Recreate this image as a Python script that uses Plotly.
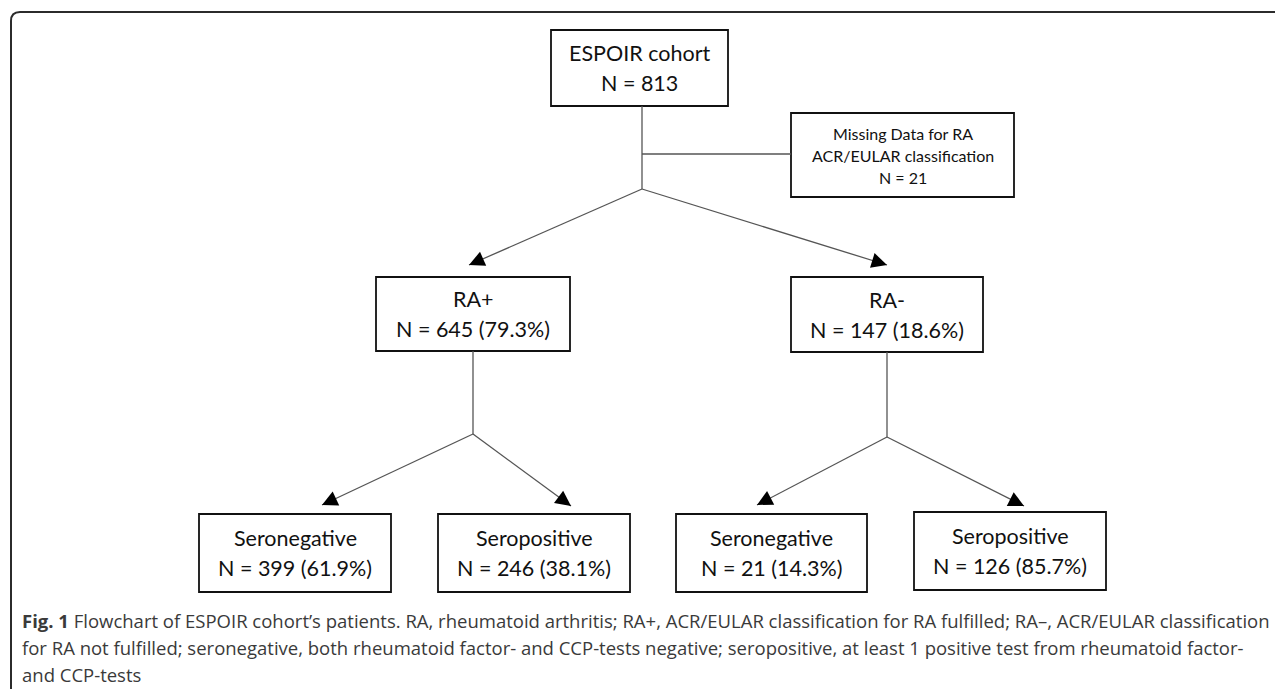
import math
import plotly.graph_objects as go

# ---------------- data ----------------
node_ids = ["cohort", "ra_pos", "ra_neg", "sn1", "sp1", "sn2", "sp2"]
node_titles = ["ESPOIR cohort", "RA+", "RA-", "Seronegative", "Seropositive", "Seronegative", "Seropositive"]
node_counts = [813, 645, 147, 399, 246, 21, 126]
node_pcts = [None, 79.3, 18.6, 61.9, 38.1, 14.3, 85.7]

missing_lines = ["Missing Data for RA", "ACR/EULAR classification"]
missing_count = 21

caption_lines = [
    "<b>Fig. 1</b> Flowchart of ESPOIR cohort\u2019s patients. RA, rheumatoid arthritis; RA+, ACR/EULAR classification for RA fulfilled; RA\u2013, ACR/EULAR classification",
    "for RA not fulfilled; seronegative, both rheumatoid factor- and CCP-tests negative; seropositive, at least 1 positive test from rheumatoid factor-",
    "and CCP-tests",
]

# ---------------- layout (positions in screen pixels) ----------------
W, H = 1283, 689
OFF = 8  # page body margin
boxes = {
    "cohort": (551, 728, 30, 106),
    "missing": (791, 1014, 113, 197),
    "ra_pos": (376, 570, 277, 351),
    "ra_neg": (791, 983, 277, 352),
    "sn1": (199, 391, 514, 592),
    "sp1": (438, 630, 514, 592),
    "sn2": (676, 867, 514, 592),
    "sp2": (914, 1106, 512, 590),
}
plain_lines = [
    ((642, 106), (642, 189)),
    ((642, 154), (791, 154)),
    ((473, 351), (473, 434)),
    ((887, 352), (887, 437)),
]
arrows = [
    ((642, 189), (469, 265)),
    ((642, 189), (887, 265)),
    ((473, 434), (322, 505)),
    ((473, 434), (571, 506)),
    ((887, 437), (757, 505)),
    ((887, 437), (1024, 506)),
]

BOX_FONT = "Lato"
BOX_SIZE = 21.5
LINE_COLOR = "#555555"

fig = go.Figure()
shapes = []
annotations = []

# outer frame
shapes.append(dict(type="path", xref="x", yref="y",
                   path=f"M 11,{H+5} L 11,21 Q 11,12 20,12 L {W+5},12",
                   line=dict(color="#2b2b2b", width=2)))

# boxes
for key, (x0, x1, y0, y1) in boxes.items():
    shapes.append(dict(type="rect", xref="x", yref="y", x0=x0, x1=x1, y0=y0, y1=y1,
                       line=dict(color="#111111", width=1.8), fillcolor="white", layer="below"))

# connectors
for (a, b) in plain_lines + arrows:
    fig.add_trace(go.Scatter(x=[a[0], b[0]], y=[a[1], b[1]], mode="lines",
                             line=dict(color=LINE_COLOR, width=1.3),
                             hoverinfo="skip", showlegend=False))

# arrowheads
for (a, b) in arrows:
    dx, dy = b[0] - a[0], b[1] - a[1]
    L = math.hypot(dx, dy)
    tx, ty = b[0] - dx / L * 14, b[1] - dy / L * 14
    annotations.append(dict(x=b[0], y=b[1], ax=tx, ay=ty, xref="x", yref="y",
                            axref="x", ayref="y", text="", showarrow=True,
                            arrowhead=2, arrowsize=2.2, arrowwidth=1.4,
                            arrowcolor="#000000"))

# node texts
for nid, title, n, p in zip(node_ids, node_titles, node_counts, node_pcts):
    x0, x1, y0, y1 = boxes[nid]
    cx, cy = (x0 + x1) / 2, (y0 + y1) / 2
    second = f"N = {n}" if p is None else f"N = {n} ({p:.1f}%)"
    for txt, yy in ((title, cy - 15), (second, cy + 15)):
        annotations.append(dict(x=cx, y=yy, xref="x", yref="y", text=txt, showarrow=False,
                                font=dict(family=BOX_FONT, size=BOX_SIZE, color="#111111"),
                                xanchor="center", yanchor="middle"))

# missing-data box text
x0, x1, y0, y1 = boxes["missing"]
cx, cy = (x0 + x1) / 2, (y0 + y1) / 2
miss_texts = missing_lines + [f"N = {missing_count}"]
for i, txt in enumerate(miss_texts):
    annotations.append(dict(x=cx, y=cy + (i - 1) * 22, xref="x", yref="y", text=txt,
                            showarrow=False,
                            font=dict(family=BOX_FONT, size=16, color="#111111"),
                            xanchor="center", yanchor="middle"))

# caption
for i, txt in enumerate(caption_lines):
    annotations.append(dict(x=20, y=620 + i * 27, xref="x", yref="y", text=txt,
                            showarrow=False,
                            font=dict(family="Open Sans", size=18.5, color="#3a3a3a"),
                            xanchor="left", yanchor="middle"))

fig.update_layout(
    width=W - OFF, height=H - OFF,
    margin=dict(l=0, r=0, t=0, b=0),
    paper_bgcolor="white", plot_bgcolor="white",
    xaxis=dict(range=[OFF, W], visible=False, fixedrange=True),
    yaxis=dict(range=[H, OFF], visible=False, fixedrange=True),
    shapes=shapes, annotations=annotations,
    showlegend=False,
)

fig.write_html("out.html")
